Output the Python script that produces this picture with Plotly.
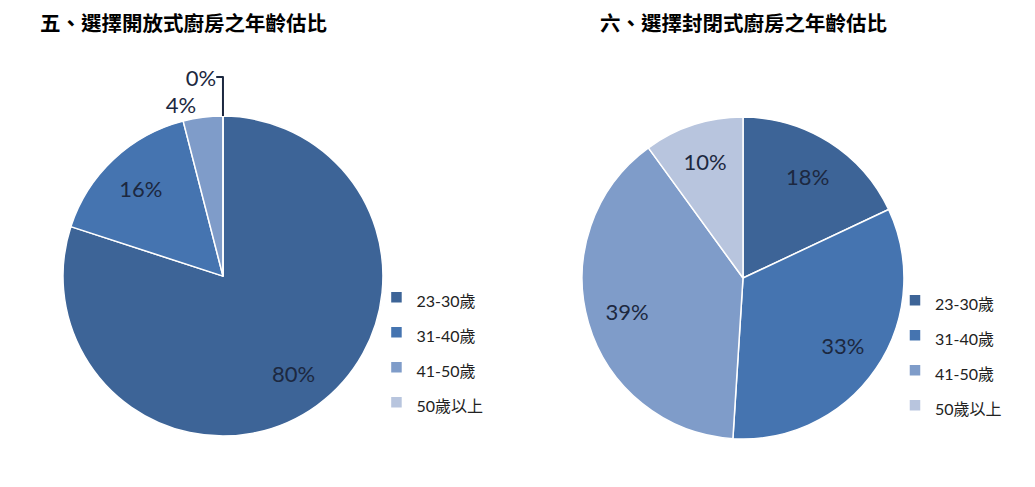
import plotly.graph_objects as go

# données
ages = ["23-30歲", "31-40歲", "41-50歲", "50歲以上"]
ouverte = [80, 16, 4, 0]
fermee = [18, 33, 39, 10]
couleurs = ["#3d6497", "#4574b0", "#7f9cc9", "#b8c5de"]

titre_gauche = "五、選擇開放式廚房之年齡估比"
titre_droite = "六、選擇封閉式廚房之年齡估比"

police = "Lato, Noto Sans CJK TC, sans-serif"
police_titre = "Noto Sans CJK TC, sans-serif"

dom_g = dict(x=[0.0531, 0.3623], y=[0.121, 0.778])
dom_d = dict(x=[0.5546, 0.8657], y=[0.115, 0.776])


def etiquettes(noms, taille):
    return ['<span style="font-size:%spx">%s</span>' % (taille, n) for n in noms]


fig = go.Figure()

# camemberts pleins (couleurs + légende)
fig.add_trace(go.Pie(
    labels=etiquettes(ages, 16), values=ouverte,
    sort=False, direction="clockwise", rotation=0,
    marker=dict(colors=couleurs, line=dict(color="white", width=1.5)),
    textinfo="none", domain=dom_g, legend="legend",
    hoverinfo="label+percent",
))
fig.add_trace(go.Pie(
    labels=etiquettes(ages, 16.01), values=fermee,
    sort=False, direction="clockwise", rotation=0,
    marker=dict(colors=couleurs, line=dict(color="white", width=1.5)),
    textinfo="none", domain=dom_d, legend="legend2",
    hoverinfo="label+percent",
))

# anneaux transparents par-dessus : seulement pour placer les % plus loin du centre
transp = ["rgba(0,0,0,0)"] * len(ages)
fig.add_trace(go.Pie(
    labels=ages, values=ouverte,
    sort=False, direction="clockwise", rotation=0, hole=0.5,
    marker=dict(colors=transp, line=dict(width=0)),
    texttemplate="%{value}%",
    textposition=["inside", "inside", "outside", "outside"],
    insidetextorientation="horizontal",
    textfont=dict(family=police, size=22, color="#1c2840"),
    domain=dom_g, showlegend=False, hoverinfo="skip",
))
fig.add_trace(go.Pie(
    labels=ages, values=fermee,
    sort=False, direction="clockwise", rotation=0, hole=0.5,
    marker=dict(colors=transp, line=dict(width=0)),
    texttemplate="%{value}%",
    textposition="inside",
    insidetextorientation="horizontal",
    textfont=dict(family=police, size=22, color="#1c2840"),
    domain=dom_d, showlegend=False, hoverinfo="skip",
))

leg = dict(font=dict(family=police, size=24.6, color="#222222"),
           bgcolor="rgba(0,0,0,0)", xanchor="left", yanchor="top",
           traceorder="normal")

fig.update_layout(
    width=1035, height=487,
    margin=dict(l=0, r=0, t=0, b=0),
    paper_bgcolor="white",
    showlegend=True,
    legend=dict(leg, x=0.356, y=0.452),
    legend2=dict(leg, x=0.857, y=0.446),
    annotations=[
        dict(text="<b>" + titre_gauche + "</b>", x=0.170, y=0.971, xref="paper", yref="paper",
             xanchor="center", yanchor="middle", showarrow=False,
             font=dict(family=police_titre, size=20.5, color="black")),
        dict(text="<b>" + titre_droite + "</b>", x=0.711, y=0.971, xref="paper", yref="paper",
             xanchor="center", yanchor="middle", showarrow=False,
             font=dict(family=police_titre, size=20.5, color="black")),
    ],
)

fig.write_html("out.html")
